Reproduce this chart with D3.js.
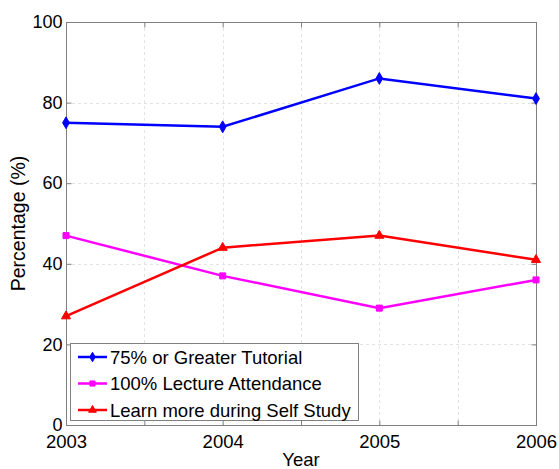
<!DOCTYPE html>
<html>
<head>
<meta charset="utf-8">
<script src="https://cdn.jsdelivr.net/npm/d3@7"></script>
<style>
  html, body { margin: 0; padding: 0; background: #fff; }
  svg { display: block; font-family: "Liberation Sans", Arial, sans-serif; }
</style>
</head>
<body>
<svg id="chart" width="559" height="469"></svg>
<script>
const years = [2003, 2004, 2005, 2006];
const tutorial = [75, 74, 86, 81];
const lecture = [47, 37, 29, 36];
const selfStudy = [27, 44, 47, 41];
const seriesNames = ["75% or Greater Tutorial", "100% Lecture Attendance", "Learn more during Self Study"];
const xTicks = [2003, 2003.5, 2004, 2004.5, 2005, 2005.5, 2006];
const yTicks = [0, 20, 40, 60, 80, 100];

const series = [
  { name: seriesNames[0], values: tutorial, color: "#0000ff", symbol: d3.symbolDiamond },
  { name: seriesNames[1], values: lecture, color: "#ff00ff", symbol: d3.symbolSquare },
  { name: seriesNames[2], values: selfStudy, color: "#ff0000", symbol: d3.symbolTriangle }
];

const svg = d3.select("#chart");
const L = 66, R = 536, T = 22, B = 425;

const x = d3.scaleLinear().domain([2003, 2006]).range([L, R]);
const y = d3.scaleLinear().domain([0, 100]).range([B, T]);

// dotted grid
const grid = svg.append("g").attr("stroke", "#e3e3e3").attr("stroke-width", 1).attr("stroke-dasharray", "3,3");
grid.selectAll(".gx").data(xTicks.slice(1, -1)).join("line")
  .attr("x1", d => Math.round(x(d)) + 0.5).attr("x2", d => Math.round(x(d)) + 0.5)
  .attr("y1", T).attr("y2", B);
grid.selectAll(".gy").data(yTicks.slice(1, -1)).join("line")
  .attr("y1", d => Math.round(y(d)) + 0.5).attr("y2", d => Math.round(y(d)) + 0.5)
  .attr("x1", L).attr("x2", R);

// axes box
svg.append("rect").attr("x", L + 0.5).attr("y", T + 0.5).attr("width", R - L).attr("height", B - T)
  .attr("fill", "none").attr("stroke", "#808080").attr("stroke-width", 1);

// bottom axis
const xAxis = svg.append("g").attr("transform", `translate(0,${B + 0.5})`)
  .call(d3.axisBottom(x).tickValues(xTicks).tickSizeInner(-5).tickSizeOuter(0)
    .tickFormat(d => Number.isInteger(d) ? d3.format("d")(d) : ""));
xAxis.select(".domain").remove();
xAxis.selectAll(".tick line").attr("stroke", "#808080");
xAxis.selectAll(".tick text").attr("fill", "#000").attr("font-size", 18.5).attr("y", 22).attr("dy", 0);

// top tick marks
const xTop = svg.append("g").attr("transform", `translate(0,${T + 0.5})`)
  .call(d3.axisTop(x).tickValues(xTicks).tickSizeInner(-5).tickSizeOuter(0).tickFormat(""));
xTop.select(".domain").remove();
xTop.selectAll(".tick line").attr("stroke", "#808080");

// left axis
const yAxis = svg.append("g").attr("transform", `translate(${L + 0.5},0)`)
  .call(d3.axisLeft(y).tickValues(yTicks).tickSizeInner(-5).tickSizeOuter(0));
yAxis.select(".domain").remove();
yAxis.selectAll(".tick line").attr("stroke", "#808080");
yAxis.selectAll(".tick text").attr("fill", "#000").attr("font-size", 18).attr("x", -4);

// right tick marks
const yRight = svg.append("g").attr("transform", `translate(${R + 0.5},0)`)
  .call(d3.axisRight(y).tickValues(yTicks).tickSizeInner(-5).tickSizeOuter(0).tickFormat(""));
yRight.select(".domain").remove();
yRight.selectAll(".tick line").attr("stroke", "#808080");

// axis titles
svg.append("text").attr("x", (L + R) / 2).attr("y", 466).attr("text-anchor", "middle")
  .attr("font-size", 18.5).text("Year");
svg.append("text").attr("transform", `translate(25,${(T + B) / 2}) rotate(-90)`)
  .attr("text-anchor", "middle").attr("font-size", 19.5).text("Percentage (%)");

// lines and markers
const line = d3.line().x((d, i) => x(years[i])).y(d => y(d));
series.forEach(s => {
  svg.append("path").datum(s.values).attr("d", line)
    .attr("fill", "none").attr("stroke", s.color).attr("stroke-width", 2.5);
  svg.selectAll(null).data(s.values).join("path")
    .attr("d", d3.symbol().type(s.symbol).size(s.symbol === d3.symbolDiamond ? 40 : 36))
    .attr("transform", (d, i) => `translate(${x(years[i])},${y(d)})`)
    .attr("fill", s.color).attr("stroke", s.color).attr("stroke-width", 1);
});

// legend
const lg = svg.append("g");
lg.append("rect").attr("x", 70.5).attr("y", 343.5).attr("width", 288).attr("height", 77)
  .attr("fill", "#fff").attr("stroke", "#808080").attr("stroke-width", 1);
series.forEach((s, i) => {
  const cy = 357 + i * 26.5;
  lg.append("line").attr("x1", 78).attr("x2", 107).attr("y1", cy).attr("y2", cy)
    .attr("stroke", s.color).attr("stroke-width", 2.5);
  lg.append("path").attr("d", d3.symbol().type(s.symbol).size(26))
    .attr("transform", `translate(92.5,${cy})`).attr("fill", s.color).attr("stroke", s.color);
  lg.append("text").attr("x", 110).attr("y", cy).attr("dy", "0.36em").attr("font-size", 18.5).text(s.name);
});
</script>
</body>
</html>
